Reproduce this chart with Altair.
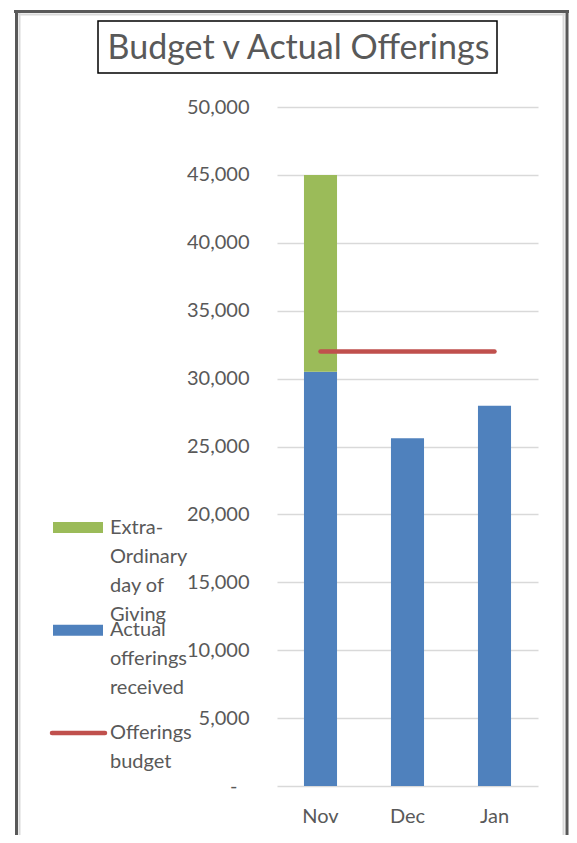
import altair as alt
import pandas as pd

# ---- data ----
months = ["Nov", "Dec", "Jan"]
actual = [30500, 25600, 28000]
extra = [14500, 0, 0]
budget = [32000, 32000, 32000]
y_ticks = [0, 5000, 10000, 15000, 20000, 25000, 30000, 35000, 40000, 45000, 50000]
title_text = "Budget v Actual Offerings"
series_names = ["Actual offerings received", "Extra-Ordinary day of Giving"]
series_colors = ["#4F81BD", "#9BBB59"]
budget_color = "#C0504D"
legend_lines = [["Extra-", "Ordinary", "day of", "Giving"],
                ["Actual", "offerings", "received"],
                ["Offerings", "budget"]]
legend_kind = ["bar", "bar", "line"]
legend_colors = ["#9BBB59", "#4F81BD", "#C0504D"]

FONT = "Lato"
TXT = "#595959"
GRID = "#D9D9D9"
DARK = "#595959"

bars_df = pd.DataFrame({
    "month": months * 2,
    "series": [series_names[0]] * 3 + [series_names[1]] * 3,
    "value": actual + extra,
    "stack_order": [0] * 3 + [1] * 3,
})
line_df = pd.DataFrame({"month": months, "value": budget})
leg_records = [
    {"order": i, "lines": legend_lines[i], "kind": legend_kind[i], "color": legend_colors[i]}
    for i in range(len(legend_lines))
]
dummy = alt.Data(values=[{"k": 0}])

xscale = alt.Scale(domain=months, paddingInner=0.62, paddingOuter=0.31)
yscale = alt.Scale(domain=[0, 50000], nice=False)

yaxis = alt.Axis(values=y_ticks, title=None, ticks=False, domain=False,
                 grid=True, gridColor=GRID, gridWidth=1.5,
                 labelPadding=alt.ExprRef(expr="datum.value == 0 ? 40 : 28"),
                 labelExpr="datum.value == 0 ? '-' : format(datum.value, ',')")
xaxis = alt.Axis(title=None, labelAngle=0, ticks=False, domain=False, grid=False,
                 labelPadding=20)

bars = alt.Chart(bars_df).mark_bar().encode(
    x=alt.X("month:N", sort=months, scale=xscale, axis=xaxis),
    y=alt.Y("value:Q", stack="zero", scale=yscale, axis=yaxis),
    color=alt.Color("series:N", scale=alt.Scale(domain=series_names, range=series_colors), legend=None),
    order=alt.Order("stack_order:Q"),
)

line = alt.Chart(line_df).mark_line(color=budget_color, strokeWidth=4.5, strokeCap="round").encode(
    x=alt.X("month:N", sort=months, scale=xscale, axis=xaxis),
    y=alt.Y("value:Q", scale=yscale, axis=yaxis),
)

main = alt.layer(bars, line)

# ---- legend (manual, wrapped labels) ----
leg_y = alt.Y("order:O", scale=alt.Scale(type="point", range=[420.5, 626], padding=0), axis=None)
leg_data = alt.Data(values=leg_records)
leg_text = alt.Chart(leg_data).mark_text(
    align="left", baseline="top", dy=-9.8, lineHeight=29, font=FONT, fontSize=20, color=TXT
).encode(x=alt.value(-167), y=leg_y, text="lines:N")
leg_bar = alt.Chart(leg_data).mark_rule(strokeWidth=11, strokeCap="butt").encode(
    x=alt.value(-224), x2=alt.value(-174), y=leg_y, color=alt.Color("color:N", scale=None)
).transform_filter("datum.kind == 'bar'")
leg_line = alt.Chart(leg_data).mark_rule(strokeWidth=4.5, strokeCap="round").encode(
    x=alt.value(-225), x2=alt.value(-172), y=leg_y, color=alt.Color("color:N", scale=None)
).transform_filter("datum.kind == 'line'")
legend = alt.layer(leg_text, leg_bar, leg_line)

# ---- frame decoration ----
def vrule(x, color, w):
    return alt.Chart(dummy).mark_rule(color=color, strokeWidth=w).encode(
        x=alt.value(x), y=alt.value(-97), y2=alt.value(730))

def hrule(y, x1, x2, color, w):
    return alt.Chart(dummy).mark_rule(color=color, strokeWidth=w).encode(
        x=alt.value(x1), x2=alt.value(x2), y=alt.value(y))

decor = [
    vrule(-257.5, GRID, 2), vrule(286.5, GRID, 2), hrule(-92.5, -259, 288, GRID, 2),
    vrule(-260.5, DARK, 3), vrule(290, DARK, 3), hrule(-95.5, -263, 295, DARK, 3),
]

title_box = alt.Chart(dummy).mark_rect(fill="white", stroke="black", strokeWidth=1.5).encode(
    x=alt.value(-179), x2=alt.value(220), y=alt.value(-86), y2=alt.value(-34))
title = alt.Chart(dummy).mark_text(font=FONT, fontSize=34, color=TXT, align="center", baseline="middle").encode(
    x=alt.value(21.5), y=alt.value(-58), text=alt.value(title_text))

chart = alt.layer(*decor, title_box, title, main, legend).resolve_scale(
    y="independent", color="independent"
).properties(
    width=261, height=679,
    background="white",
    padding={"left": 269, "top": 99, "right": 31, "bottom": 49},
    autosize=alt.AutoSizeParams(type="none"),
).configure_view(strokeWidth=0, stroke="transparent").configure_axis(
    labelFont=FONT, labelFontSize=20, labelColor=TXT, domain=False
)

chart.save("out.html", embed_options={"renderer": "svg", "actions": False})
